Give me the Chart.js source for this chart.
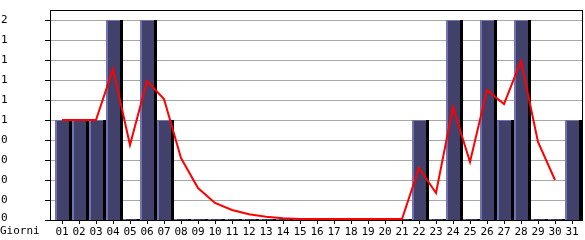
<!DOCTYPE html>
<html>
<head>
<meta charset="utf-8">
<script src="https://cdn.jsdelivr.net/npm/chart.js@4.4.1/dist/chart.umd.min.js"></script>
<style>
  html, body { margin: 0; padding: 0; background: #fff; }
  #wrap { width: 585px; height: 240px; position: relative; }
</style>
</head>
<body>
<div id="wrap"><canvas id="barChart"></canvas></div>
<script>
const days = ["01","02","03","04","05","06","07","08","09","10","11","12","13","14","15","16",
  "17","18","19","20","21","22","23","24","25","26","27","28","29","30","31"];
const visits = [1,1,1,2,0,2,1,0,0,0,0,0,0,0,0,0,0,0,0,0,0,1,0,2,0,2,1,2,0,0,1];
const average = [1.0,1.0,1.0,1.51,0.75,1.39,1.21,0.62,0.32,0.17,0.10,0.057,0.033,0.017,0.01,0.01,
  0.01,0.01,0.01,0.01,0.01,0.52,0.27,1.13,0.58,1.30,1.16,1.59,0.78,0.40,null];
const yTickValues = [0,0.2,0.4,0.6,0.8,1.0,1.2,1.4,1.6,1.8,2.0];
const yTickLabels = ["0","0","0","0","0","1","1","1","1","1","2"];
const xTitle = "Giorni";

const FONT = "'DejaVu Sans Mono', monospace";

// box, gray grid, left ticks and their labels
const framePlugin = {
  id: "frame",
  beforeDatasetsDraw(chart) {
    const ctx = chart.ctx;
    const y = chart.scales.y;
    ctx.save();
    ctx.strokeStyle = "#a8a8a8";
    ctx.lineWidth = 1;
    yTickValues.forEach(v => {
      if (v === 0) return;
      const py = Math.round(y.getPixelForValue(v)) + 0.5;
      ctx.beginPath();
      ctx.moveTo(50, py);
      ctx.lineTo(582, py);
      ctx.stroke();
    });
    ctx.restore();
  },
  afterDraw(chart) {
    const ctx = chart.ctx;
    const y = chart.scales.y;
    ctx.save();
    ctx.strokeStyle = "#000";
    ctx.lineWidth = 1;
    ctx.strokeRect(50.5, 10.5, 532, 210);
    ctx.fillStyle = "#000";
    ctx.font = "11px " + FONT;
    ctx.textBaseline = "middle";
    ctx.textAlign = "left";
    yTickValues.forEach((v, i) => {
      const py = Math.round(y.getPixelForValue(v)) + 0.5;
      ctx.beginPath();
      ctx.moveTo(45, py);
      ctx.lineTo(50, py);
      ctx.stroke();
      ctx.fillText(yTickLabels[i], 1, Math.min(py, 218));
    });
    ctx.fillText(xTitle, 0, 231);
    ctx.restore();
  }
};

// black block on the right of each bar (drawn before the bars)
const shadowPlugin = {
  id: "barShadow",
  beforeDatasetDraw(chart, args) {
    if (args.meta.type !== "bar") return;
    const ctx = chart.ctx;
    ctx.save();
    ctx.fillStyle = "#000";
    args.meta.data.forEach(bar => {
      const p = bar.getProps(["x", "y", "base", "width"], true);
      const top = Math.min(p.y, p.base);
      const h = Math.abs(p.base - p.y);
      ctx.fillRect(p.x - p.width / 2 + 3, top, p.width, h);
    });
    ctx.restore();
  }
};

new Chart(document.getElementById("barChart"), {
  data: {
    labels: days,
    datasets: [
      {
        type: "line",
        data: average,
        borderColor: "#ff0000",
        borderWidth: 2,
        pointRadius: 0,
        tension: 0,
        spanGaps: false,
        order: 0,
        clip: false,
      },
      {
        type: "bar",
        data: visits,
        backgroundColor: "#41416c",
        borderColor: "#7272b0",
        borderWidth: { top: 1, left: 2, right: 0, bottom: 0 },
        borderSkipped: false,
        inflateAmount: 0,
        barThickness: 14,
        minBarLength: 1,
        order: 1,
        clip: false,
      },
    ],
  },
  options: {
    responsive: true,
    maintainAspectRatio: false,
    devicePixelRatio: 1,
    animation: false,
    layout: { padding: { top: 10, right: 4.5, left: 0, bottom: 0 } },
    plugins: { legend: { display: false }, tooltip: { enabled: false } },
    scales: {
      x: {
        offset: true,
        grid: {
          offset: false,
          drawOnChartArea: false,
          tickLength: 4,
          tickColor: "#000",
        },
        border: { display: false },
        ticks: {
          color: "#000",
          font: { family: FONT, size: 11 },
          padding: 2,
          maxRotation: 0,
          autoSkip: false,
        },
        afterFit(scale) { scale.height = 20; },
      },
      y: {
        min: 0,
        max: 2.1,
        grid: { display: false, drawTicks: false },
        border: { display: false },
        ticks: { display: false },
        afterBuildTicks(scale) {
          scale.ticks = yTickValues.map(v => ({ value: v }));
        },
        afterFit(scale) { scale.width = 53.5; },
      },
    },
  },
  plugins: [framePlugin, shadowPlugin],
});
</script>
</body>
</html>
